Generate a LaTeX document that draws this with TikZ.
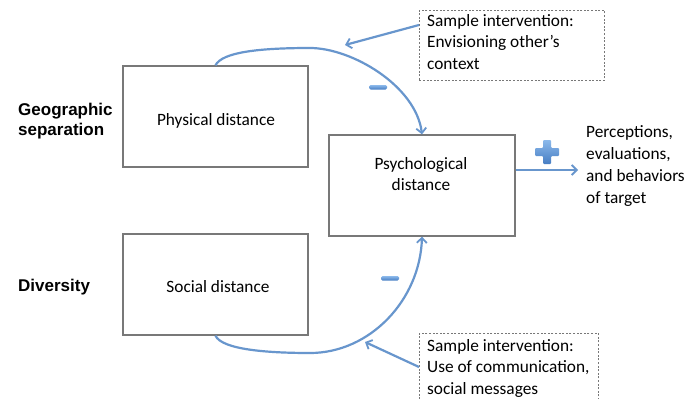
\documentclass[tikz,border=0pt]{standalone}
\usepackage{fontspec}
\setmainfont{Carlito}
\newfontfamily\arialf{Liberation Sans}
\usetikzlibrary{arrows.meta,calc}
\definecolor{lineblue}{RGB}{104,150,205}
\definecolor{signtop}{RGB}{140,185,235}
\definecolor{signbot}{RGB}{70,125,195}
\definecolor{boxgray}{RGB}{120,120,120}
\tikzset{
  distbox/.style={draw=boxgray,line width=1.3pt,minimum width=185pt,minimum height=101pt,inner sep=0pt},
  dashbox/.style={draw=boxgray,line width=0.8pt,dash pattern=on 2pt off 1.6pt,inner sep=0pt,anchor=north west},
  bluearrow/.style={draw=lineblue,line width=2.2pt,-{Straight Barb[length=5pt,width=10pt,line width=1.8pt]}},
  plaintext/.style={inner sep=0pt,align=left,font=\fontsize{17.3}{21.7}\selectfont},
  sidelabel/.style={inner sep=0pt,align=left,anchor=west,font=\arialf\bfseries\fontsize{17}{20.5}\selectfont},
}
\begin{document}
\begin{tikzpicture}[x=1pt,y=-1pt]
\useasboundingbox (0,0) rectangle (686,399);
\clip (0,0) rectangle (686,399);
\fill[white] (0,0) rectangle (686,399);

% boxes
\node[distbox] (phys) at (215.5,116.5) {};
\node[plaintext] (phystext) at (216,121) {Physical distance};
\node[distbox] (social) at (215.5,284.5) {};
\node[plaintext] (socialtext) at (218,287) {Social distance};
\node[distbox,minimum width=186pt] (psych) at (422,185.5) {};
\node[plaintext,align=center] (psychtext) at (421,174) {Psychological\\distance};

% side labels
\node[sidelabel] (geo) at (18,121) {Geographic\\separation};
\node[sidelabel] (div) at (18,287) {Diversity};

% dashed intervention boxes
\node[dashbox,minimum width=185pt,minimum height=70pt] (topbox) at (419,10) {};
\node[plaintext,anchor=north west] (toptext) at (427,14) {Sample intervention:\\Envisioning other’s\\context};
\node[dashbox,minimum width=179pt,minimum height=100pt] (botbox) at (419,333) {};
\node[plaintext,anchor=north west] (bottext) at (427,339) {Sample intervention:\\Use of communication,\\social messages};

% target
\node[plaintext,anchor=west] (target) at (586,166) {Perceptions,\\evaluations,\\and behaviors\\of target};
\coordinate (tgtin) at (578,170);

% curves
\draw[bluearrow] (phys.north) .. controls (222,52) and (260,48) .. (310,48)
  .. controls (352,48) and (416,86) .. (psych.north);
\draw[bluearrow] (social.south) .. controls (222,350) and (270,353) .. (310,353)
  .. controls (370,353) and (420,300) .. (psych.south);

% intervention arrows
\coordinate (topend) at (345,45);
\coordinate (botend) at (365,342);
\draw[bluearrow] ($(topbox.north west)+(0,15)$) -- (topend);
\draw[bluearrow] ($(botbox.north west)+(0,34)$) -- (botend);

% output arrow
\draw[bluearrow] ([yshift=15.5pt]psych.east) -- (tgtin);

% signs
\shade[top color=signtop,bottom color=signbot,rounded corners=1.5pt]
  (369,85) rectangle (387,89.5);
\shade[top color=signtop,bottom color=signbot,rounded corners=1.5pt]
  (381,276) rectangle (399,280.5);
\shade[top color=signtop,bottom color=signbot,rounded corners=1pt]
  (543,140) -- (551,140) -- (551,148) -- (559,148) -- (559,156) -- (551,156)
  -- (551,164) -- (543,164) -- (543,156) -- (535,156) -- (535,148) -- (543,148) -- cycle;
\end{tikzpicture}
\end{document}
